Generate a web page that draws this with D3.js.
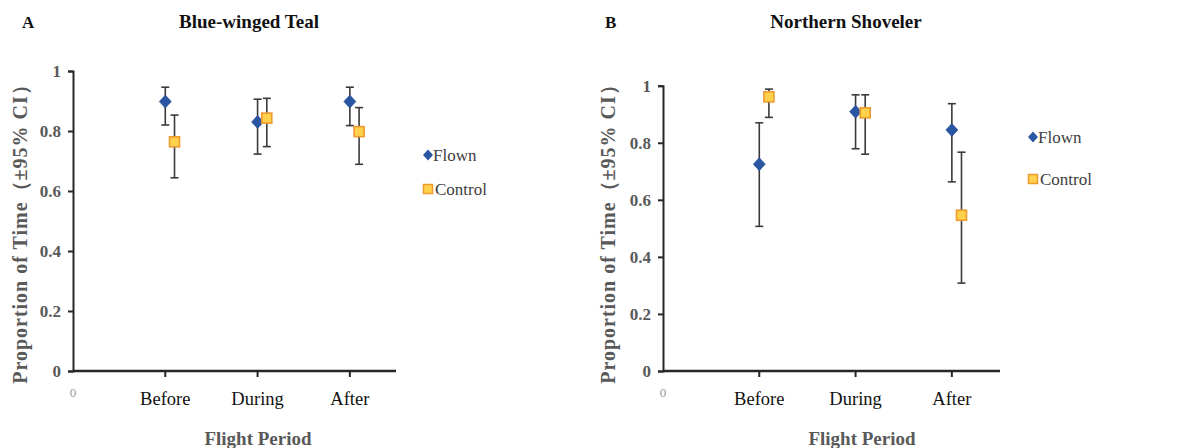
<!DOCTYPE html>
<html>
<head>
<meta charset="utf-8">
<script src="https://cdn.jsdelivr.net/npm/d3@7"></script>
<style>
  html, body { margin: 0; padding: 0; background: #fff; }
  svg { display: block; }
  text { font-family: "Liberation Serif", "Times New Roman", serif; }
</style>
</head>
<body>
<svg id="chart" width="1178" height="448"></svg>
<script>
// Flight periods shown on the x axis (positions 1, 2, 3)
const periods = ["Before", "During", "After"];
const yTicks = [0, 0.2, 0.4, 0.6, 0.8, 1];

// Blue-winged Teal: mean proportion and 95% CI bounds
const tealFlown      = [0.898, 0.830, 0.898];
const tealFlownLow   = [0.820, 0.723, 0.818];
const tealFlownHigh  = [0.946, 0.906, 0.946];
const tealControl     = [0.764, 0.843, 0.798];
const tealControlLow  = [0.644, 0.748, 0.689];
const tealControlHigh = [0.853, 0.909, 0.878];

// Northern Shoveler: mean proportion and 95% CI bounds
const shovFlown      = [0.725, 0.909, 0.845];
const shovFlownLow   = [0.507, 0.779, 0.663];
const shovFlownHigh  = [0.870, 0.968, 0.937];
const shovControl     = [0.961, 0.905, 0.546];
const shovControlLow  = [0.889, 0.760, 0.308];
const shovControlHigh = [0.988, 0.968, 0.767];

const seriesNames = ["Flown", "Control"];

const svg = d3.select("#chart");

const panels = [
  {
    letter: "A", title: "Blue-winged Teal",
    x0: 73, x1: 396, yTop: 71, yBottom: 371,
    letterX: 22, titleX: 249, yLabelX: 20, flightX: 258,
    legendX: 428, legendY: [155, 189],
    flown: [tealFlown, tealFlownLow, tealFlownHigh],
    control: [tealControl, tealControlLow, tealControlHigh]
  },
  {
    letter: "B", title: "Northern Shoveler",
    x0: 663, x1: 1000, yTop: 85.7, yBottom: 371,
    letterX: 605, titleX: 846, yLabelX: 608, flightX: 862,
    legendX: 1033, legendY: [137, 179],
    flown: [shovFlown, shovFlownLow, shovFlownHigh],
    control: [shovControl, shovControlLow, shovControlHigh]
  }
];

// Diamond marker of given half-width / half-height
const diamondPath = (hw, hh) => `M0,${-hh}L${hw},0L0,${hh}L${-hw},0Z`;

panels.forEach(p => {
  const g = svg.append("g");
  const x = d3.scaleLinear().domain([0, 3.5]).range([p.x0, p.x1]);
  const y = d3.scaleLinear().domain([0, 1]).range([p.yBottom, p.yTop]);

  // Panel letter and species title
  g.append("text").attr("x", p.letterX).attr("y", 28)
    .attr("font-size", 17).attr("font-weight", "bold").attr("fill", "#111")
    .text(p.letter);
  g.append("text").attr("x", p.titleX).attr("y", 28)
    .attr("text-anchor", "middle")
    .attr("font-size", 19).attr("font-weight", "bold").attr("fill", "#111")
    .text(p.title);

  // Y axis
  const yAxis = d3.axisLeft(y).tickValues(yTicks)
    .tickFormat(d => d === 0 ? "0" : d3.format("")(d))
    .tickSize(5).tickPadding(7);
  const ya = g.append("g").attr("transform", `translate(${p.x0},0)`).call(yAxis);
  ya.select(".domain").attr("stroke", "#262626").attr("stroke-width", 2);
  ya.selectAll(".tick line").attr("stroke", "#262626").attr("stroke-width", 2);
  ya.selectAll(".tick text").attr("font-family", "Liberation Serif, serif")
    .attr("font-size", 17).attr("font-weight", "bold").attr("fill", "#595959");

  // X axis
  const xa = g.append("g").attr("transform", `translate(0,${p.yBottom})`);
  xa.append("line").attr("x1", p.x0).attr("x2", p.x1)
    .attr("stroke", "#262626").attr("stroke-width", 2.5);
  xa.selectAll("line.tick").data([1, 2, 3]).join("line").attr("class", "tick")
    .attr("x1", d => x(d)).attr("x2", d => x(d)).attr("y1", 0).attr("y2", 6)
    .attr("stroke", "#262626").attr("stroke-width", 2);
  xa.append("text").attr("x", x(0)).attr("y", 26)
    .attr("text-anchor", "middle").attr("font-family", "Liberation Sans, sans-serif")
    .attr("font-size", 13).attr("fill", "#9a9a9a").text("0");
  xa.selectAll("text.cat").data(periods).join("text").attr("class", "cat")
    .attr("x", (d, i) => x(i + 1)).attr("y", 34)
    .attr("text-anchor", "middle").attr("font-size", 18.5).attr("fill", "#111")
    .text(d => d);

  // Axis titles
  g.append("text").attr("x", p.flightX).attr("y", 445)
    .attr("text-anchor", "middle").attr("font-size", 19).attr("font-weight", "bold")
    .attr("fill", "#595959").text("Flight Period");
  g.append("text")
    .attr("transform", `translate(${p.yLabelX + 7},229) rotate(-90)`)
    .attr("text-anchor", "middle").attr("font-size", 20).attr("font-weight", "bold")
    .attr("letter-spacing", 1)
    .attr("fill", "#595959").text("Proportion of Time（±95% CI）");

  // Error bars and markers for each series
  const drawSeries = (vals, offset, kind) => {
    const [mean, lo, hi] = vals;
    const idx = d3.range(periods.length);
    const cx = i => x(i + 1 + offset);
    const eb = g.append("g").attr("stroke", "#3a3a3a").attr("stroke-width", 1.6);
    eb.selectAll("line.v").data(idx).join("line").attr("class", "v")
      .attr("x1", cx).attr("x2", cx).attr("y1", i => y(lo[i])).attr("y2", i => y(hi[i]));
    eb.selectAll("line.t").data(idx).join("line").attr("class", "t")
      .attr("x1", i => cx(i) - 4).attr("x2", i => cx(i) + 4)
      .attr("y1", i => y(hi[i])).attr("y2", i => y(hi[i]));
    eb.selectAll("line.b").data(idx).join("line").attr("class", "b")
      .attr("x1", i => cx(i) - 4).attr("x2", i => cx(i) + 4)
      .attr("y1", i => y(lo[i])).attr("y2", i => y(lo[i]));
    if (kind === "Flown") {
      g.selectAll(null).data(idx).join("path")
        .attr("d", diamondPath(6, 6.5))
        .attr("transform", i => `translate(${cx(i)},${y(mean[i])})`)
        .attr("fill", "#2a55a3").attr("stroke", "#1f4590").attr("stroke-width", 0.6);
    } else {
      g.selectAll(null).data(idx).join("rect")
        .attr("x", i => cx(i) - 5).attr("y", i => y(mean[i]) - 5)
        .attr("width", 10).attr("height", 10)
        .attr("fill", "#ffd24d").attr("stroke", "#ef9a2e").attr("stroke-width", 1.6);
    }
  };
  drawSeries(p.flown, 0, "Flown");
  drawSeries(p.control, 0.1, "Control");

  // Legend
  const lg = g.append("g");
  seriesNames.forEach((name, k) => {
    const ly = p.legendY[k];
    if (name === "Flown") {
      lg.append("path").attr("d", diamondPath(5, 5.5))
        .attr("transform", `translate(${p.legendX},${ly})`)
        .attr("fill", "#2a55a3");
    } else {
      lg.append("rect").attr("x", p.legendX - 4.5).attr("y", ly - 4.5)
        .attr("width", 9).attr("height", 9)
        .attr("fill", "#ffd24d").attr("stroke", "#ef9a2e").attr("stroke-width", 1.5);
    }
    lg.append("text").attr("x", p.legendX + (name === "Flown" ? 5 : 7)).attr("y", ly + 5.5)
      .attr("font-size", 17).attr("fill", "#404040").text(name);
  });
});
</script>
</body>
</html>
